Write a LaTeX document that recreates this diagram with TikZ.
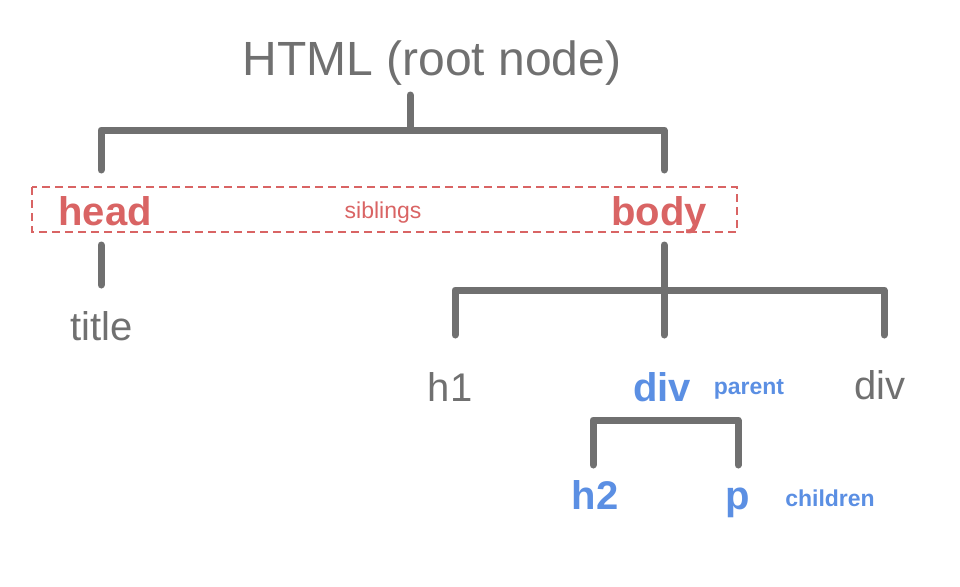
\documentclass[tikz,border=0pt]{standalone}
\usepackage{fontspec}
\setmainfont{Liberation Sans}
\usepackage{xcolor}
\usetikzlibrary{positioning}
\definecolor{treegray}{HTML}{707070}
\definecolor{sibred}{HTML}{D96464}
\definecolor{famblue}{HTML}{5B8FE3}
\tikzset{
    branch/.style={draw=treegray, line width=7pt, line cap=round, line join=round},
    tag/.style={anchor=base, inner sep=0pt, text=treegray, font=\fontsize{40}{44}\selectfont},
    boldtag/.style={tag, font=\fontsize{40}{44}\selectfont\bfseries},
    note/.style={anchor=base, inner sep=0pt, font=\fontsize{23}{26}\selectfont}
}

\begin{document}
\begin{tikzpicture}[x=1pt, y=-1pt]
            \useasboundingbox (0,0) rectangle (960,586);

            \node[tag, font=\fontsize{48}{52}\selectfont] (root) at (432,75) {HTML (root node)};
            \coordinate (rootstem) at (410,95);
            \coordinate (rootbar) at (410,130);
            \coordinate (headtop) at (101,170);
            \coordinate (bodytop) at (664,170);
            \draw[branch] (rootstem) -- (rootbar);
            \draw[branch] (headtop) |- (rootbar) -| (bodytop);

            \draw[sibred, line width=1.3pt, dash pattern=on 8pt off 5pt] (32,187) rectangle (737,232);
            \node[boldtag, text=sibred] (head) at (105,225) {head};
            \node[note, text=sibred] (siblings) at (383,218) {siblings};
            \node[boldtag, text=sibred] (body) at (659,225) {body};

            \coordinate (headbot) at (101,245);
            \coordinate (titletop) at (101,285);
            \draw[branch] (headbot) -- (titletop);
            \node[tag] (title) at (102,340) {title};

            \coordinate (bodybot) at (664,245);
            \coordinate (divtop) at (664,335);
            \coordinate (bodybar) at (664,290);
            \coordinate (h1top) at (455,335);
            \coordinate (lasttop) at (884,335);
            \draw[branch] (bodybot) -- (divtop);
            \draw[branch] (h1top) |- (bodybar) -| (lasttop);

            \node[tag] (h1) at (450,401) {h1};
            \node[boldtag, text=famblue] (div) at (662,401) {div};
            \node[note, text=famblue, font=\fontsize{23}{26}\selectfont\bfseries] (parent) at (749,394) {parent};
            \node[tag] (lastdiv) at (880,399) {div};

            \coordinate (h2top) at (593,465);
            \coordinate (ptop) at (738,465);
            \coordinate (divbar) at (593,420);
            \draw[branch] (h2top) -- (divbar) -| (ptop);

            \node[boldtag, text=famblue] (h2) at (595,509) {h2};
            \node[boldtag, text=famblue] (p) at (738,509) {p};
            \node[note, text=famblue, font=\fontsize{23}{26}\selectfont\bfseries] (children) at (830,506) {children};
        \end{tikzpicture}
\end{document}
